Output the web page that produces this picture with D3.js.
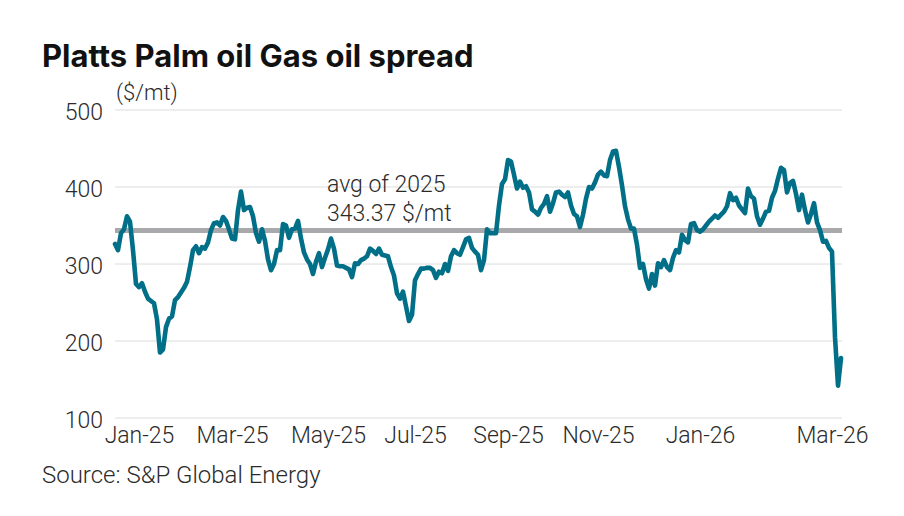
<!DOCTYPE html>
<html>
<head>
<meta charset="utf-8">
<script src="https://cdn.jsdelivr.net/npm/d3@7"></script>
<style>
  body { margin: 0; background: #fff; }
  svg text { font-family: Roboto, "Noto Sans", sans-serif; fill: #2b2b2b; }
</style>
</head>
<body>
<div id="chart"></div>
<script>
// Palm oil minus gas oil spread, $/mt, one reading per sample step from Jan-25 to Mar-26
const spread = [
  326, 318, 340, 345, 362, 355, 318, 274, 270, 275, 264, 255, 252, 249, 228, 185,
  189, 218, 229, 232, 253, 257, 263, 269, 277, 296, 318, 323, 314, 322, 320, 328,
  344, 353, 354, 350, 361, 356, 345, 333, 332, 370, 394, 370, 373, 374, 362, 340,
  329, 345, 330, 306, 292, 300, 318, 318, 352, 350, 334, 345, 346, 356, 333, 315,
  306, 300, 287, 303, 314, 296, 308, 319, 333, 320, 298, 297, 297, 295, 293, 283,
  301, 300, 305, 307, 310, 320, 317, 313, 320, 312, 311, 310, 296, 285, 262, 255,
  264, 245, 226, 234, 279, 287, 294, 294, 295, 295, 292, 282, 290, 288, 300, 291,
  310, 318, 314, 312, 322, 332, 334, 321, 316, 312, 292, 305, 345, 340, 340, 340,
  376, 404, 410, 435, 433, 416, 398, 407, 399, 401, 393, 371, 368, 364, 373, 378,
  388, 368, 379, 393, 394, 390, 387, 393, 376, 365, 362, 348, 364, 385, 400, 398,
  406, 416, 420, 415, 414, 435, 446, 447, 426, 402, 375, 358, 346, 346, 325, 295,
  300, 280, 268, 287, 272, 301, 296, 305, 296, 292, 308, 318, 315, 338, 331, 328,
  352, 353, 344, 342, 345, 350, 355, 359, 363, 360, 364, 368, 375, 392, 383, 386,
  376, 371, 366, 398, 388, 385, 362, 351, 359, 368, 369, 386, 395, 411, 425, 422,
  393, 405, 408, 391, 370, 390, 370, 354, 365, 379, 354, 344, 329, 330, 321, 316,
  205, 142, 178
];

const avg2025 = 343.37;

// x tick labels and the sample they sit under
const tickLabels = ['Jan-25', 'Mar-25', 'May-25', 'Jul-25', 'Sep-25', 'Nov-25', 'Jan-26', 'Mar-26'];
const tickIndex = [8, 39, 71, 100, 131, 161, 195, 239];

const yTicks = [100, 200, 300, 400, 500];

const width = 904;
const height = 516;
const margin = { top: 110, right: 62, bottom: 98, left: 115 };

const svg = d3.select('#chart')
  .append('svg')
  .attr('width', width)
  .attr('height', height);

const x = d3.scaleLinear()
  .domain([0, spread.length - 1])
  .range([margin.left, 841]);

const y = d3.scaleLinear()
  .domain([100, 500])
  .range([height - margin.bottom, margin.top]);

// title
svg.append('text')
  .attr('x', 42)
  .attr('y', 67)
  .style('font-family', 'Inter, Roboto, sans-serif')
  .style('font-weight', 700)
  .style('font-size', '31px')
  .style('fill', '#111')
  .text('Platts Palm oil Gas oil spread');

svg.append('text')
  .attr('x', 116)
  .attr('y', 100)
  .style('font-size', '22px')
  .style('font-weight', 300)
  .text('($/mt)');

// grid
svg.append('g')
  .selectAll('line')
  .data(yTicks)
  .join('line')
  .attr('x1', margin.left)
  .attr('x2', 842)
  .attr('y1', (d) => y(d))
  .attr('y2', (d) => y(d))
  .attr('stroke', '#dcdcdc')
  .attr('stroke-width', 1);

// y axis labels
const yAxis = svg.append('g')
  .attr('transform', `translate(${margin.left - 12},0)`)
  .call(d3.axisLeft(y).tickValues(yTicks).tickSize(0).tickPadding(0));
yAxis.select('.domain').remove();
yAxis.selectAll('text')
  .style('font-size', '23px')
  .style('font-weight', 300)
  .style('font-family', 'Roboto, sans-serif')
  .attr('fill', '#2b2b2b')
  .attr('dy', '0.4em');

// x axis labels
const xAxis = svg.append('g')
  .attr('transform', `translate(0,${height - margin.bottom})`)
  .call(d3.axisBottom(x)
    .tickValues(tickIndex)
    .tickFormat((d, i) => tickLabels[i])
    .tickSize(0)
    .tickPadding(9));
xAxis.select('.domain').remove();
xAxis.selectAll('text')
  .style('font-size', '23px')
  .style('font-weight', 300)
  .style('font-family', 'Roboto, sans-serif')
  .attr('fill', '#2b2b2b');

// average line
svg.append('line')
  .attr('x1', margin.left)
  .attr('x2', 842)
  .attr('y1', y(avg2025))
  .attr('y2', y(avg2025))
  .attr('stroke', '#a9a9ab')
  .attr('stroke-width', 5);

svg.append('text')
  .attr('x', 327)
  .attr('y', 192)
  .style('font-size', '23px')
  .style('font-weight', 300)
  .text('avg of 2025');

svg.append('text')
  .attr('x', 327)
  .attr('y', 221)
  .style('font-size', '23px')
  .style('font-weight', 300)
  .text(`${avg2025} $/mt`);

// spread line
const line = d3.line()
  .x((d, i) => x(i))
  .y((d) => y(d));

svg.append('path')
  .datum(spread)
  .attr('fill', 'none')
  .attr('stroke', '#006f87')
  .attr('stroke-width', 4.6)
  .attr('stroke-linejoin', 'round')
  .attr('stroke-linecap', 'round')
  .attr('d', line);

svg.append('text')
  .attr('x', 42)
  .attr('y', 483)
  .style('font-size', '24px')
  .style('font-weight', 300)
  .text('Source: S&P Global Energy');
</script>
</body>
</html>
